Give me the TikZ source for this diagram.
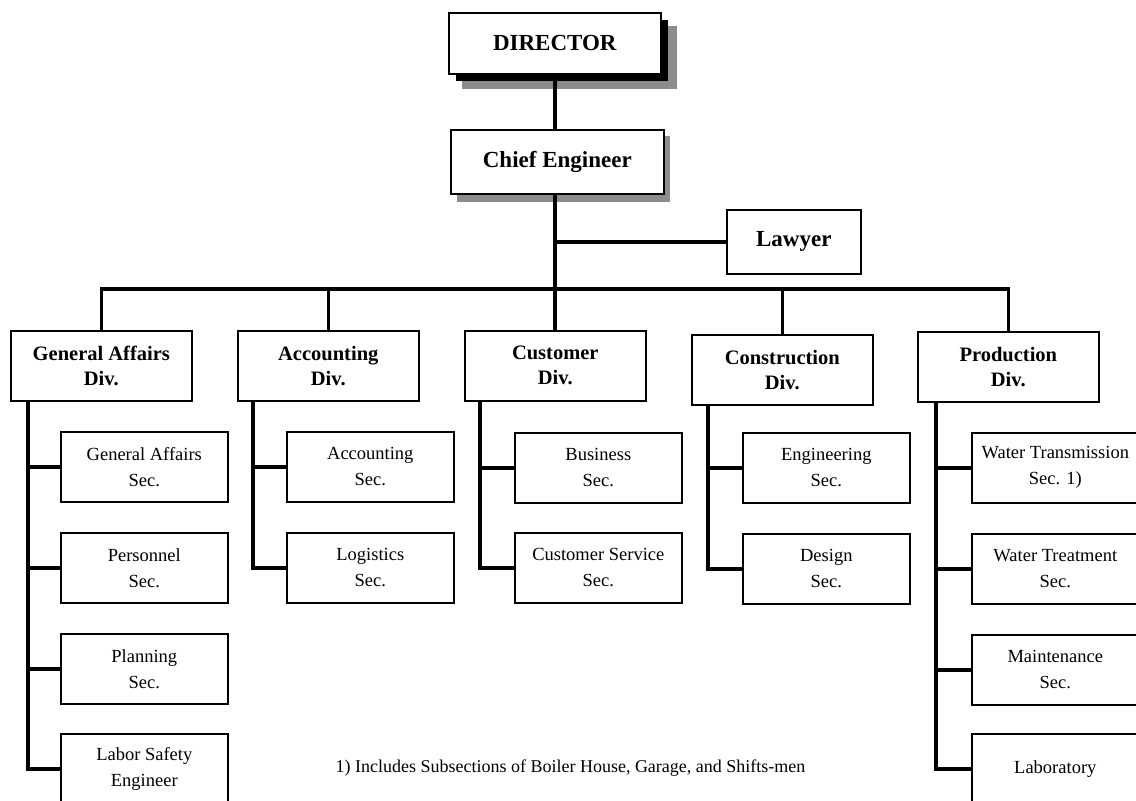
\documentclass[tikz,border=0pt]{standalone}
\usepackage{fontspec}
\setmainfont{Liberation Serif}
\begin{document}
\begin{tikzpicture}[x=1pt,y=-1pt,
  box/.style={draw=black,line width=1.6pt,fill=white,rectangle,inner sep=0pt,align=center},
  topbox/.style={box,font=\bfseries\fontsize{23}{27}\selectfont},
  divbox/.style={box,minimum width=181pt,minimum height=70pt,font=\bfseries\fontsize{20.5}{25}\selectfont},
  secbox/.style={box,minimum width=167pt,minimum height=70pt,font=\fontsize{18.5}{26}\selectfont},
  conn/.style={line width=3.6pt,line cap=rect,line join=miter},
  gshadow/.style={fill=black!45},
]
\useasboundingbox (0,0) rectangle (1136,801);
\fill[white] (0,0) rectangle (1136,801);

% top boxes with shadows
\fill[gshadow] (462,26) rectangle (677,89);
\fill[black] (456,20) rectangle (668,81);
\node[topbox,minimum width=212pt,minimum height=61pt,anchor=north west] (dir) at (448,12) {DIRECTOR};
\fill[gshadow] (457,136) rectangle (670,202);
\node[topbox,minimum width=213pt,minimum height=64pt,anchor=north west] (chief) at (450,129) {Chief Engineer};
\node[topbox,minimum width=134pt,minimum height=64pt,anchor=north west] (law) at (726,209) {Lawyer};

% divisions
\node[divbox,anchor=north west] (gad) at (10,330) {General Affairs\\Div.};
\node[divbox,anchor=north west] (accd) at (237,330) {Accounting\\Div.};
\node[divbox,anchor=north west] (cusd) at (464,330) {Customer\\Div.};
\node[divbox,anchor=north west] (cond) at (691,334) {Construction\\Div.};
\node[divbox,anchor=north west] (prod) at (917,331) {Production\\Div.};

% sections
\node[secbox,anchor=north west] (gas) at (60,431) {General Affairs\\Sec.};
\node[secbox,anchor=north west] (pers) at (60,532) {Personnel\\Sec.};
\node[secbox,anchor=north west] (plan) at (60,633) {Planning\\Sec.};
\node[secbox,anchor=north west] (labs) at (60,733) {Labor Safety\\Engineer};

\node[secbox,anchor=north west] (accs) at (286,431) {Accounting\\Sec.};
\node[secbox,anchor=north west] (logs) at (286,532) {Logistics\\Sec.};

\node[secbox,anchor=north west] (buss) at (514,432) {Business\\Sec.};
\node[secbox,anchor=north west] (csvs) at (514,532) {Customer Service\\Sec.};

\node[secbox,anchor=north west] (engs) at (742,432) {Engineering\\Sec.};
\node[secbox,anchor=north west] (dess) at (742,533) {Design\\Sec.};

\node[secbox,anchor=north west] (wtrs) at (971,432) {Water Transmission\\Sec. 1)};
\node[secbox,anchor=north west] (wtts) at (971,533) {Water Treatment\\Sec.};
\node[secbox,anchor=north west] (mnts) at (971,634) {Maintenance\\Sec.};
\node[secbox,anchor=north west] (labr) at (971,733) {Laboratory};

% footnote
\node[font=\fontsize{18}{22}\selectfont,anchor=base west] (note) at (332,772) {1) Includes Subsections of Boiler House, Garage, and Shifts-men};

% top connectors
\coordinate (bus) at (555,289);
\coordinate (lawj) at (555,242);
\draw[conn] (dir.south -| bus) -- (chief.north -| bus);
\draw[conn] (chief.south -| bus) -- (cusd.north -| bus);
\draw[conn] (lawj) -- (law.west |- lawj);
\draw[conn] (gad.north) -- (gad.north |- bus) -- (prod.north |- bus) -- (prod.north);
\draw[conn] (accd.north) -- (accd.north |- bus);
\draw[conn] (cond.north) -- (cond.north |- bus);

% section spines
\coordinate (gaS) at ([xshift=18pt]gad.south west);
\coordinate (acS) at ([xshift=16pt]accd.south west);
\coordinate (cuS) at ([xshift=16pt]cusd.south west);
\coordinate (coS) at ([xshift=17pt]cond.south west);
\coordinate (prS) at ([xshift=19pt]prod.south west);

\draw[conn] (gaS) |- (labs.west);
\draw[conn] (gas.west) -- (gas.west -| gaS);
\draw[conn] (pers.west) -- (pers.west -| gaS);
\draw[conn] (plan.west) -- (plan.west -| gaS);

\draw[conn] (acS) |- (logs.west);
\draw[conn] (accs.west) -- (accs.west -| acS);

\draw[conn] (cuS) |- (csvs.west);
\draw[conn] (buss.west) -- (buss.west -| cuS);

\draw[conn] (coS) |- (dess.west);
\draw[conn] (engs.west) -- (engs.west -| coS);

\draw[conn] (prS) |- (labr.west);
\draw[conn] (wtrs.west) -- (wtrs.west -| prS);
\draw[conn] (wtts.west) -- (wtts.west -| prS);
\draw[conn] (mnts.west) -- (mnts.west -| prS);
\end{tikzpicture}
\end{document}
